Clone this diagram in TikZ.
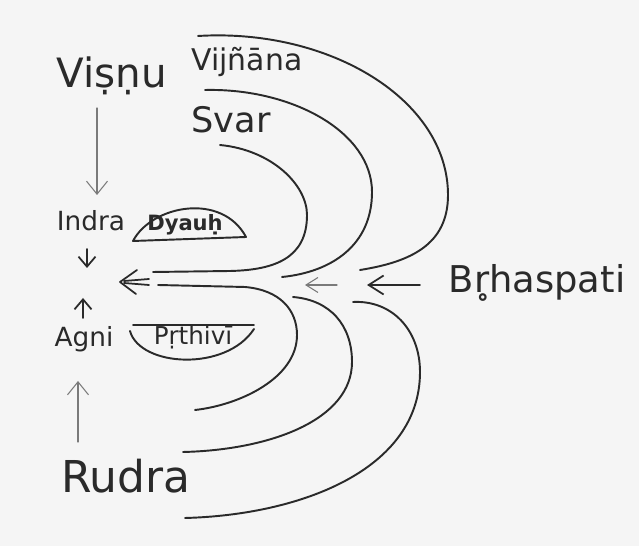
\documentclass[tikz,border=0pt]{standalone}
\usepackage{fontspec}
\setmainfont{DejaVu Sans}
\usetikzlibrary{arrows.meta,calc}
\definecolor{ink}{HTML}{2A2A2A}
\definecolor{pencil}{HTML}{7A7A7A}
\definecolor{paper}{HTML}{F5F5F5}
\tikzset{
  label/.style={inner sep=0pt, text=ink},
  stroke/.style={draw=ink, line width=1.1pt, line cap=round, line join=round},
  faint/.style={draw=pencil, line width=0.6pt, line cap=round,
    -{Straight Barb[length=2.6mm,width=4.2mm]}},
  darkarrow/.style={draw=ink, line width=1pt, line cap=round,
    -{Straight Barb[length=2mm,width=3.4mm]}},
}
\begin{document}
\begin{tikzpicture}[x=0.02cm,y=-0.02cm]
\fill[paper] (0,0) rectangle (639,546);
\useasboundingbox (0,0) rectangle (639,546);

% labels
\node[label, font=\fontsize{23}{25}\selectfont] (vishnu) at (112,76) {Viṣṇu};
\node[label, font=\fontsize{17}{19}\selectfont] (vijnana) at (247,62) {Vijñāna};
\node[label, font=\fontsize{20}{22}\selectfont] (svar) at (231,120) {Svar};
\node[label, font=\fontsize{15}{17}\selectfont] (indra) at (91,221) {Indra};
\node[label, font=\fontsize{12}{14}\selectfont\bfseries] (dyauh) at (185,225) {Dyauḥ};
\node[label, font=\fontsize{15}{17}\selectfont] (agni) at (84,339) {Agni};
\node[label, font=\fontsize{14}{16}\selectfont] (prthivi) at (193,337) {Pṛthivī};
\node[label, font=\fontsize{25}{27}\selectfont] (rudra) at (126,476) {Rudra};
\node[label, font=\fontsize{21}{23}\selectfont] (brhaspati) at (537,283) {Br̥haspati};

% named end points
\coordinate (vtop) at (97,108);
\coordinate (vbot) at (97,195);
\coordinate (rbot) at (78,442);
\coordinate (rtop) at (78,381);
\coordinate (idn1) at (87,249);
\coordinate (idn2) at (87,268);
\coordinate (aup1) at (83,318);
\coordinate (aup2) at (83,298);
\coordinate (b1) at (420,285);
\coordinate (b2) at (367,285);
\coordinate (s1) at (337,285);
\coordinate (s2) at (305,285);
\coordinate (m1) at (149,279);
\coordinate (m2) at (149,285);
\coordinate (mtip) at (120,282);

% Vishnu -> Indra, Rudra -> Agni
\draw[faint] (vtop) -- (vbot);
\draw[faint] (rbot) -- (rtop);
% Indra down, Agni up
\draw[darkarrow] (idn1) -- (idn2);
\draw[darkarrow] (aup1) -- (aup2);
% Brhaspati arrows
\draw[darkarrow, -{Straight Barb[length=3mm,width=3.8mm]}] (b1) -- (b2);
\draw[faint, -{Straight Barb[length=2.4mm,width=3mm]}] (s1) -- (s2);
% central arrow
\draw[stroke, line width=1pt] (m1) -- ($(mtip)+(4,-1)$);
\draw[stroke, line width=1pt] (m2) -- ($(mtip)+(4,1)$);
\draw[stroke, line width=1pt] (137,270) -- (mtip) -- (136,294);

% upper arcs
\draw[stroke] (220,145) .. controls (272,150) and (307,185) .. (307,215)
  .. controls (307,258) and (275,270) .. (230,271) -- (153,272);
\draw[stroke] (205,90) .. controls (292,88) and (372,132) .. (372,192)
  .. controls (372,245) and (332,272) .. (282,277);
\draw[stroke] (198,36) .. controls (330,28) and (448,100) .. (448,195)
  .. controls (448,245) and (410,262) .. (360,270);

% lower arcs
\draw[stroke] (158,285) -- (245,287) .. controls (280,290) and (297,310) .. (297,335)
  .. controls (297,378) and (240,405) .. (195,410);
\draw[stroke] (293,297) .. controls (330,300) and (352,325) .. (352,362)
  .. controls (352,420) and (270,450) .. (183,452);
\draw[stroke] (353,302) .. controls (392,300) and (420,330) .. (420,372)
  .. controls (420,470) and (300,515) .. (185,518);

% Dyauh dome
\draw[stroke] (133,241) .. controls (152,205) and (222,192) .. (246,237) -- cycle;
% Prthivi bowl
\draw[stroke] (133,325) -- (254,325);
\draw[stroke] (130,331) .. controls (140,367) and (226,372) .. (254,329);
\end{tikzpicture}
\end{document}
